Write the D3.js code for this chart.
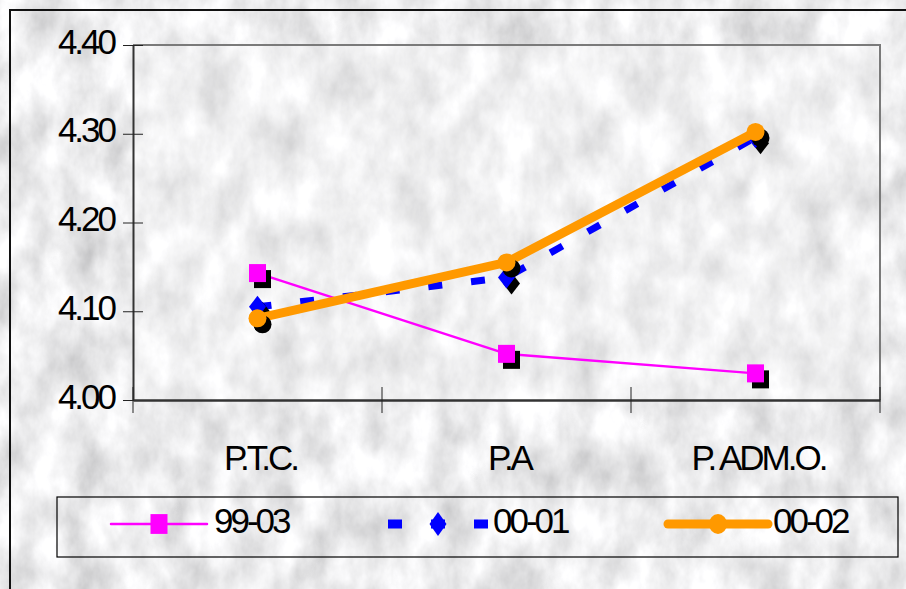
<!DOCTYPE html>
<html>
<head>
<meta charset="utf-8">
<script src="https://cdn.jsdelivr.net/npm/d3@7"></script>
<style>
  html, body { margin: 0; padding: 0; background: #d9d9d9; }
  svg { display: block; }
  text { font-family: Arial, "Liberation Sans", sans-serif; fill: #000; }
</style>
</head>
<body>
<svg id="chart" width="906" height="589"></svg>
<script>
// ---- data ----
const categories = ["P.T.C.", "P.A", "P. ADM.O."];
const seriesNames = ["99-03", "00-01", "00-02"];
const values9903 = [4.143, 4.052, 4.030];
const values0001 = [4.105, 4.138, 4.296];
const values0002 = [4.092, 4.155, 4.302];
const yTicks = [4.00, 4.10, 4.20, 4.30, 4.40];

// ---- layout ----
const W = 906, H = 589;
const plot = { left: 133, top: 45, right: 880, bottom: 400 };
const svg = d3.select("#chart");

const defs = svg.append("defs");
const f = defs.append("filter").attr("id", "marble")
  .attr("x", 0).attr("y", 0).attr("width", "100%").attr("height", "100%");
f.append("feTurbulence").attr("type", "fractalNoise")
  .attr("baseFrequency", "0.03 0.018").attr("numOctaves", 5).attr("seed", 11).attr("result", "n");
f.append("feColorMatrix").attr("type", "matrix")
  .attr("values", "0.65 0 0 0 0.52  0.65 0 0 0 0.52  0.65 0 0 0 0.53  0 0 0 0 1");

// background
svg.append("rect").attr("x", 0).attr("y", 0).attr("width", W).attr("height", H)
  .attr("filter", "url(#marble)");
// outer frame (top & left visible)
svg.append("path").attr("d", `M10,${H + 5}V10H${W + 5}`)
  .attr("fill", "none").attr("stroke", "#111").attr("stroke-width", 2);

// plot area lighter
svg.append("rect").attr("x", plot.left).attr("y", plot.top)
  .attr("width", plot.right - plot.left).attr("height", plot.bottom - plot.top)
  .attr("fill", "#fff").attr("opacity", 0.22);

const x = d3.scaleBand().domain(categories).range([plot.left, plot.right]);
const y = d3.scaleLinear().domain([4.0, 4.4]).range([plot.bottom, plot.top]);
const cx = c => x(c) + x.bandwidth() / 2;

// plot border top/right
svg.append("path")
  .attr("d", `M${plot.left},${plot.top}H${plot.right}V${plot.bottom}`)
  .attr("fill", "none").attr("stroke", "#7a7a7a").attr("stroke-width", 2);

// y axis
const yAxis = d3.axisLeft(y).tickValues(yTicks).tickFormat(d3.format(".2f"))
  .tickSizeInner(10).tickSizeOuter(0).tickPadding(20);
const gy = svg.append("g").attr("transform", `translate(${plot.left},0)`).call(yAxis);
gy.select(".domain").attr("stroke", "#333").attr("stroke-width", 2);
gy.selectAll(".tick line").attr("stroke", "#222").attr("x2", 10).attr("x1", -10);
gy.selectAll(".tick text")
  .attr("font-size", 35).attr("letter-spacing", "-3px")
  .attr("x", -19).attr("dy", "0.23em").attr("fill", "#000");

// x axis
const xAxis = d3.axisBottom(x).tickSize(0).tickSizeOuter(0).tickPadding(0);
const gx = svg.append("g").attr("transform", `translate(0,${plot.bottom})`).call(xAxis);
gx.select(".domain").attr("stroke", "#333").attr("stroke-width", 2.5);
gx.selectAll(".tick text").attr("font-size", 35).attr("letter-spacing", "-3px")
  .attr("y", 70).attr("dy", 0).attr("dx", 3);
// boundary ticks
const bounds = categories.map(c => x(c)).concat([plot.right]);
gx.selectAll(".bt").data(bounds).enter().append("line")
  .attr("x1", d => d).attr("x2", d => d).attr("y1", -13).attr("y2", 13)
  .attr("stroke", "#222").attr("stroke-width", 1);

// series styles
const series = [
  { name: seriesNames[0], vals: values9903, color: "#FF00FF", width: 2.5, dash: null, marker: "square" },
  { name: seriesNames[1], vals: values0001, color: "#0000FF", width: 7, dash: "14,29", marker: "diamond" },
  { name: seriesNames[2], vals: values0002, color: "#FF9900", width: 9, dash: null, marker: "circle" }
];

function drawMarker(g, type, px, py, fill, scaleY) {
  scaleY = scaleY || 1;
  if (type === "square") {
    g.append("rect").attr("x", px - 8.5).attr("y", py - 9 * scaleY)
      .attr("width", 17).attr("height", 18 * scaleY).attr("fill", fill);
  } else if (type === "diamond") {
    g.append("path").attr("d", `M${px},${py - 11 * scaleY}L${px + 8.5},${py}L${px},${py + 11 * scaleY}L${px - 8.5},${py}Z`)
      .attr("fill", fill);
  } else {
    g.append("ellipse").attr("cx", px).attr("cy", py).attr("rx", 9).attr("ry", 9 * scaleY).attr("fill", fill);
  }
}

const line = d3.line().x((d, i) => cx(categories[i])).y(d => y(d));

series.forEach(s => {
  const g = svg.append("g");
  g.append("path").datum(s.vals).attr("d", line)
    .attr("fill", "none").attr("stroke", s.color).attr("stroke-width", s.width)
    .attr("stroke-dasharray", s.dash).attr("stroke-linejoin", "round")
    .attr("stroke-linecap", s.dash ? "butt" : "round");
  s.vals.forEach((v, i) => drawMarker(g, s.marker, cx(categories[i]) + 5, y(v) + 6, "#000"));
  s.vals.forEach((v, i) => drawMarker(g, s.marker, cx(categories[i]), y(v), s.color));
});

// legend
const lg = { x: 57, y: 497, w: 841, h: 60 };
svg.append("rect").attr("x", lg.x).attr("y", lg.y).attr("width", lg.w).attr("height", lg.h)
  .attr("fill", "none").attr("stroke", "#000").attr("stroke-width", 1.2);
const legendPos = [{ x0: 111, x1: 207, tx: 214 }, { x0: 388, x1: 488, tx: 493 }, { x0: 668, x1: 768, tx: 773 }];
const ly = 524;
series.forEach((s, i) => {
  const p = legendPos[i];
  const g = svg.append("g");
  g.append("line").attr("x1", p.x0).attr("x2", p.x1).attr("y1", ly).attr("y2", ly)
    .attr("stroke", s.color).attr("stroke-width", s.dash ? 9 : s.width)
    .attr("stroke-dasharray", s.dash).attr("stroke-linecap", s.dash ? "butt" : "round");
  drawMarker(g, s.marker, (p.x0 + p.x1) / 2, ly, s.color, 1.1);
  g.append("text").attr("x", p.tx).attr("y", ly + 9).attr("dy", "0.0em")
    .attr("font-size", 35).attr("letter-spacing", "-3px").text(s.name);
});
</script>
</body>
</html>
